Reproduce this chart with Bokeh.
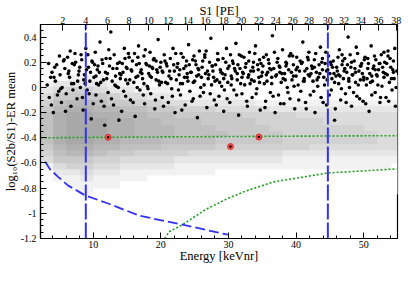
import numpy as np
from bokeh.plotting import figure
from bokeh.models import (Range1d, LinearAxis, FixedTicker, SingleIntervalTicker,
                          CustomJSTickFormatter, LinearColorMapper)
from bokeh.embed import file_html
from bokeh.resources import INLINE

# ---------------- data ----------------
# top axis: S1 [PE] tick labels and the energy [keVnr] where each sits
s1_labels = [2, 4, 6, 8, 10, 12, 14, 16, 18, 20, 22, 24, 26, 28, 30, 32, 34, 36, 38]
s1_tick_energy = [5.5, 8.9, 12.1, 15.3, 18.2, 21.1, 24.0, 26.6, 29.3, 31.9,
                  34.5, 37.0, 39.5, 41.9, 44.7, 47.1, 49.6, 52.2, 54.8]

# left axis ticks
y_ticks = [-1.2, -1.0, -0.8, -0.6, -0.4, -0.2, 0.0, 0.2, 0.4]

# analysis window (S1 = 4 and 30 PE)
cut_energy = [8.9, 44.7]

# gray ER-calibration cloud: density levels (0-9), 2 keVnr columns from 2 keVnr,
# 0.05 rows, listed from the top row (0.05..0.10) down to (-0.85..-0.80)
gray_rows = [
    "00111 00000 00000 00000 00000 00",
    "12222 11000 00000 00000 00000 00",
    "23443 22111 00000 00000 00000 00",
    "35555 43322 11111 00000 00000 00",
    "46776 55443 32222 21111 11111 11",
    "57887 76655 44433 33222 22222 22",
    "68998 87766 55555 44443 33333 33",
    "68999 88776 66555 54444 43333 33",
    "68999 88777 66655 55444 44443 33",
    "68999 88777 66665 55544 44444 33",
    "68998 87776 66655 55544 44444 33",
    "57887 76665 55544 44444 33333 33",
    "46776 55444 43333 33322 22222 22",
    "35554 43333 22222 22211 11111 11",
    "13443 32222 11111 11111 11111 10",
    "02232 21111 11100 00000 00000 00",
    "01121 11100 00000 00000 00000 00",
    "00111 10000 00000 00000 00000 00",
    "00010 00000 00000 00000 00000 00",
]
gray_x0, gray_dx = 2.0, 2.0
gray_y0, gray_dy = -0.85, 0.05

# black NR events
dot_energy = [
    3.2, 3.5, 3.9, 4.1, 4.4, 4.6, 4.9, 5.1, 5.3, 5.6,
    5.8, 6.0, 6.2, 6.5, 6.7, 6.9, 7.1, 7.3, 7.6, 7.9,
    8.1, 8.3, 8.5, 8.7, 8.9, 9.1, 9.3, 9.5, 9.7, 9.9,
    10.1, 10.3, 10.4, 10.6, 10.8, 11.0, 11.2, 11.4, 11.5, 11.7,
    11.9, 12.1, 12.2, 12.4, 12.6, 12.8, 13.0, 13.1, 13.3, 13.5,
    13.7, 13.9, 14.0, 14.2, 14.4, 14.6, 14.8, 14.9, 15.1, 15.3,
    15.5, 15.7, 15.8, 16.0, 16.2, 16.4, 16.6, 16.7, 16.9, 17.1,
    17.3, 17.5, 17.6, 17.8, 18.0, 18.2, 18.4, 18.5, 18.7, 18.9,
    19.1, 19.3, 19.4, 19.6, 19.8, 20.0, 20.2, 20.3, 20.5, 20.7,
    20.9, 21.1, 21.2, 21.4, 21.6, 21.8, 22.0, 22.1, 22.3, 22.5,
    22.7, 22.9, 23.0, 23.2, 23.4, 23.6, 23.8, 23.9, 24.1, 24.3,
    24.5, 24.7, 24.8, 25.0, 25.2, 25.4, 25.6, 25.7, 25.9, 26.1,
    26.3, 26.5, 26.6, 26.8, 27.0, 27.2, 27.4, 27.5, 27.7, 27.9,
    28.1, 28.3, 28.4, 28.6, 28.8, 29.0, 29.2, 29.3, 29.5, 29.7,
    29.9, 30.1, 30.2, 30.4, 30.6, 30.8, 31.0, 31.1, 31.3, 31.5,
    31.7, 31.9, 32.0, 32.2, 32.4, 32.6, 32.8, 32.9, 33.1, 33.3,
    33.5, 33.7, 33.8, 34.0, 34.2, 34.4, 34.6, 34.7, 34.9, 35.1,
    35.3, 35.5, 35.6, 35.8, 36.0, 36.2, 36.4, 36.5, 36.7, 36.9,
    37.1, 37.3, 37.4, 37.6, 37.8, 38.0, 38.2, 38.3, 38.5, 38.7,
    38.9, 39.1, 39.2, 39.4, 39.6, 39.8, 40.0, 40.1, 40.3, 40.5,
    40.7, 40.9, 41.0, 41.2, 41.4, 41.6, 41.8, 41.9, 42.1, 42.3,
    42.5, 42.7, 42.8, 43.0, 43.2, 43.4, 43.6, 43.7, 43.9, 44.1,
    44.3, 44.5, 44.6, 44.8, 45.0, 45.2, 45.4, 45.5, 45.7, 45.9,
    46.1, 46.3, 46.4, 46.6, 46.8, 47.0, 47.2, 47.3, 47.5, 47.7,
    47.9, 48.1, 48.2, 48.4, 48.6, 48.8, 49.0, 49.1, 49.3, 49.5,
    49.7, 49.9, 50.0, 50.2, 50.4, 50.6, 50.8, 50.9, 51.1, 51.3,
    51.5, 51.7, 51.8, 52.0, 52.2, 52.4, 52.6, 52.7, 52.9, 53.1,
    53.3, 53.5, 53.6, 53.8, 54.0, 54.2, 54.4, 54.5, 54.7, 54.9,
    3.4, 3.8, 4.2, 4.7, 5.0, 5.4, 5.9, 6.3, 6.6, 7.0,
    7.4, 7.7, 8.0, 8.4, 8.8, 9.2, 9.6, 10.0, 10.2, 10.5,
    10.9, 11.3, 11.6, 12.0, 12.3, 12.7, 13.2, 13.6, 13.8, 14.1,
    14.5, 14.7, 15.0, 15.4, 15.9, 16.1, 16.5, 16.8, 17.2, 17.4,
    17.7, 18.1, 18.3, 18.6, 19.0, 19.2, 19.5, 19.9, 20.1, 20.4,
    20.6, 21.0, 21.3, 21.7, 21.9, 22.2, 22.6, 22.8, 23.1, 23.5,
    23.7, 24.0, 24.4, 24.6, 24.9, 25.3, 25.5, 25.8, 26.2, 26.4,
    26.7, 26.9, 27.3, 27.6, 27.8, 28.2, 28.5, 28.7, 29.1, 29.4,
    29.6, 29.8, 30.3, 30.5, 30.9, 31.2, 31.4, 31.8, 32.1, 32.3,
    32.7, 33.0, 33.2, 33.6, 33.9, 34.1, 34.5, 34.8, 35.0, 35.4,
    35.7, 35.9, 36.3, 36.6, 36.8, 37.0, 37.5, 37.7, 37.9, 38.4,
    38.6, 38.8, 39.3, 39.5, 39.7, 40.2, 40.4, 40.6, 41.1, 41.3,
    41.5, 41.7, 42.0, 42.4, 42.6, 42.9, 43.1, 43.5, 43.8, 44.0,
    44.2, 44.4, 44.7, 44.9, 45.1, 45.3, 45.6, 45.8, 46.0, 46.2,
    46.5, 46.7, 46.9, 47.1, 47.4, 47.6, 47.8, 48.0, 48.3, 48.5,
    48.7, 48.9, 49.2, 49.4, 49.6, 49.8, 50.1, 50.3, 50.5, 50.7,
    51.0, 51.2, 51.4, 51.6, 51.9, 52.1, 52.3, 52.5, 52.8, 53.0,
    53.2, 53.4, 53.7, 53.9, 54.1, 54.3, 54.6, 54.8,
    3.7, 4.3, 5.2, 5.7, 6.4, 6.8, 7.2, 7.8, 8.2, 8.6,
    9.0, 9.4, 9.8, 10.4, 10.7, 11.1, 11.8, 12.5, 12.9, 13.4,
    13.9, 14.3, 14.8, 15.2, 15.6, 16.3, 16.6, 17.0, 17.5, 17.9,
    18.4, 18.8, 19.3, 19.7, 20.2, 20.8, 21.5, 22.4, 22.9, 23.3,
    23.9, 24.2, 24.8, 25.1, 25.6, 26.0, 26.5, 27.1, 27.6, 28.0,
    28.4, 28.9, 29.3, 29.9, 30.4, 30.7, 31.3, 31.6, 32.0, 32.5,
    33.0, 33.4, 33.7, 34.3, 34.6, 35.2, 35.6, 36.1, 36.4, 37.2,
    37.6, 38.1, 38.5, 39.0, 39.6, 40.0, 40.8, 41.2, 41.8, 42.2,
    42.7, 43.3, 43.9, 44.5, 45.2, 45.7, 46.3, 46.8, 47.2, 47.8,
    48.2, 48.8, 49.5, 50.0, 50.6, 51.2, 51.7, 52.4, 53.0, 53.6, 54.4,
]
dot_log = [
    0.02, -0.08, 0.12, -0.20, 0.05, 0.18, -0.03, 0.10, -0.12, 0.21,
    0.15, -0.05, 0.24, 0.08, -0.15, 0.19, 0.03, 0.27, -0.09, 0.13,
    0.00, 0.22, -0.18, 0.10, 0.31, -0.02, 0.16, 0.05, -0.25, 0.20,
    0.08, 0.28, -0.06, 0.14, 0.02, 0.36, -0.11, 0.19, 0.06, -0.30,
    0.23, 0.11, -0.04, 0.17, 0.44, 0.05, -0.14, 0.26, 0.09, 0.15,
    0.00, 0.20, 0.07, -0.19, 0.12, 0.31, -0.07, 0.16, 0.03, 0.24,
    -0.10, 0.13, 0.21, 0.04, -0.23, 0.18, 0.09, 0.33, -0.02, 0.14,
    0.07, 0.25, -0.13, 0.19, 0.01, 0.11, 0.28, -0.05, 0.16, 0.22,
    -0.17, 0.06, 0.14, 0.38, 0.02, 0.20, -0.08, 0.12, 0.26, 0.04,
    0.17, -0.12, 0.09, 0.23, -0.01, 0.31, 0.13, -0.20, 0.06, 0.19,
    0.10, -0.06, 0.27, 0.03, 0.15, -0.14, 0.21, 0.08, 0.34, -0.03,
    0.12, 0.22, -0.09, 0.05, 0.18, -0.24, 0.10, 0.29, 0.00, 0.16,
    -0.04, 0.24, 0.11, -0.16, 0.07, 0.20, 0.39, 0.02, 0.13, -0.10,
    0.18, 0.06, 0.27, -0.07, 0.14, 0.01, 0.23, -0.19, 0.10, 0.31,
    0.04, 0.17, -0.12, 0.09, 0.21, -0.02, 0.13, 0.35, 0.06, -0.22,
    0.15, 0.25, -0.05, 0.11, 0.02, 0.19, -0.15, 0.08, 0.28, 0.13,
    -0.08, 0.20, 0.05, 0.33, -0.01, 0.14, 0.22, -0.18, 0.09, 0.17,
    0.03, -0.11, 0.26, 0.12, 0.19, -0.04, 0.08, 0.41, 0.15, -0.20,
    0.10, 0.23, -0.06, 0.16, 0.04, 0.30, -0.13, 0.11, 0.20, 0.00,
    0.14, -0.09, 0.27, 0.06, 0.18, -0.17, 0.09, 0.24, 0.02, 0.13,
    -0.03, 0.20, 0.36, 0.07, -0.12, 0.15, 0.10, 0.28, -0.06, 0.17,
    0.05, 0.22, -0.20, 0.12, 0.01, 0.18, 0.32, -0.08, 0.14, 0.08,
    0.19, -0.14, 0.06, 0.25, 0.11, -0.02, 0.16, 0.21, -0.26, 0.09,
    0.13, 0.03, 0.30, -0.10, 0.18, 0.07, 0.23, -0.05, 0.12, 0.40,
    0.00, 0.16, -0.15, 0.10, 0.21, 0.04, -0.07, 0.27, 0.13, 0.06,
    0.19, -0.11, 0.08, 0.24, 0.02, 0.15, -0.19, 0.11, 0.33, 0.05,
    0.17, -0.04, 0.22, 0.09, 0.14, -0.12, 0.26, 0.01, 0.12, 0.20,
    -0.08, 0.10, 0.29, 0.04, 0.16, -0.02, 0.21, 0.07, -0.15, 0.13,
    0.19, -0.14, 0.08, -0.06, 0.25, 0.00, -0.19, 0.11, 0.29, -0.02,
    0.20, 0.05, 0.16, -0.08, 0.03, 0.26, 0.12, -0.13, 0.18, 0.03,
    0.12, 0.22, -0.15, 0.07, 0.30, -0.09, 0.02, 0.19, -0.26, 0.10,
    -0.03, 0.23, 0.15, 0.06, -0.12, 0.27, 0.00, 0.19, 0.11, -0.06,
    0.30, -0.01, 0.17, 0.08, 0.23, -0.10, 0.12, 0.16, 0.04, -0.15,
    0.21, 0.03, 0.13, -0.07, 0.18, 0.27, -0.02, 0.14, -0.18, 0.08,
    0.17, 0.05, 0.12, -0.11, 0.25, 0.09, 0.15, -0.07, 0.21, 0.02,
    0.29, 0.13, -0.05, 0.17, 0.08, -0.14, 0.22, 0.04, 0.11, -0.02,
    0.20, -0.09, 0.26, 0.07, 0.15, -0.06, 0.18, 0.03, 0.12, 0.24,
    -0.11, 0.10, 0.03, 0.16, 0.27, -0.05, 0.08, 0.19, 0.12, -0.16,
    0.05, 0.22, 0.14, -0.07, 0.28, 0.09, 0.17, -0.13, 0.11, 0.06,
    0.19, -0.04, 0.12, 0.25, 0.01, 0.16, -0.10, 0.21, 0.05, 0.13,
    -0.17, 0.24, 0.09, 0.15, -0.03, 0.27, 0.06, 0.11, 0.20, -0.12,
    0.02, 0.28, 0.14, -0.06, 0.20, 0.07, 0.11, -0.17, 0.16, 0.24,
    0.09, -0.01, 0.21, 0.13, -0.12, 0.18, 0.05, 0.26, 0.10, -0.04,
    0.15, 0.32, 0.02, -0.09, 0.17, 0.11, 0.22, -0.13, 0.07, 0.19,
    0.04, -0.06, 0.15, 0.25, 0.10, 0.02, 0.19, -0.08, 0.16, 0.28,
    0.11, 0.19, -0.11, 0.23, 0.07, 0.14, 0.31, 0.00,
    0.08, 0.16, -0.01, 0.22, 0.13, 0.03, 0.18, 0.10, 0.26, 0.06,
    0.14, -0.05, 0.21, 0.09, 0.17, 0.04, 0.12, 0.23, 0.15, 0.01,
    0.11, 0.19, 0.06, 0.27, 0.14, 0.08, 0.24, 0.12, 0.03, 0.18,
    0.09, 0.15, 0.21, 0.05, 0.13, 0.19, 0.07, 0.16, 0.03, 0.24,
    0.11, 0.18, 0.04, 0.21, 0.14, 0.08, 0.26, 0.10, 0.17, 0.05,
    0.22, 0.12, 0.07, 0.15, 0.02, 0.19, 0.11, 0.26, 0.08, 0.16,
    0.21, 0.06, 0.13, 0.18, 0.04, 0.24, 0.10, 0.15, 0.03, 0.20,
    0.12, 0.07, 0.17, 0.25, 0.09, 0.14, 0.19, 0.05, 0.22, 0.11,
    0.16, 0.08, 0.23, 0.13, 0.18, 0.04, 0.10, 0.26, 0.15, 0.07,
    0.20, 0.12, 0.17, 0.06, 0.23, 0.09, 0.14, 0.19, 0.08, 0.25, 0.12,
]

# red marked events
red_energy = [12.2, 30.3, 34.5]
red_log = [-0.396, -0.47, -0.394]

# blue dashed lower-bound curve
blue_energy = [2.9, 3.6, 4.8, 6.3, 8.9, 12.1, 16.9, 23.2, 29.9]
blue_log = [-0.59, -0.65, -0.71, -0.78, -0.86, -0.92, -1.02, -1.09, -1.17]

# green dotted NR median line
green_mid_energy = [2.2, 10.0, 20.0, 30.0, 40.0, 55.0]
green_mid_log = [-0.400, -0.397, -0.393, -0.390, -0.387, -0.383]

# green dotted lower curve
green_low_energy = [20.6, 21.2, 23.2, 26.6, 29.9, 32.4, 36.7, 44.8, 54.9]
green_low_log = [-1.20, -1.147, -1.09, -0.97, -0.882, -0.826, -0.75, -0.679, -0.647]

# ---------------- styling ----------------
FONT = "Liberation Serif"
BLUE = "#3232f5"
GREEN = "#1fa01f"
X0, X1 = 2.2, 55.0
Y0, Y1 = -1.2, 0.5

p = figure(width=407, height=265, x_range=Range1d(X0, X1), y_range=Range1d(Y0, Y1),
           output_backend="svg", toolbar_location=None,
           min_border_left=34, min_border_right=10,
           min_border_top=10, min_border_bottom=10)
p.xgrid.visible = False
p.ygrid.visible = False
p.outline_line_color = "black"
p.outline_line_width = 1.2
p.background_fill_color = "white"
p.border_fill_color = "white"


def style_axis(ax, title, label_standoff, title_standoff):
    ax.axis_line_color = "black"
    ax.axis_line_width = 1.2
    ax.major_tick_line_color = "black"
    ax.minor_tick_line_color = "black"
    ax.major_tick_in = 6
    ax.major_tick_out = 0
    ax.minor_tick_in = 3
    ax.minor_tick_out = 0
    ax.major_label_text_font = FONT
    ax.major_label_text_font_size = "10px"
    ax.major_label_text_color = "black"
    ax.major_label_text_line_height = 0.8
    ax.major_label_standoff = label_standoff
    ax.axis_label = title
    ax.axis_label_text_font = FONT
    ax.axis_label_text_font_size = "12.5px"
    ax.axis_label_text_font_style = "normal"
    ax.axis_label_text_color = "black"
    ax.axis_label_text_line_height = 0.8
    ax.axis_label_standoff = title_standoff


xb = p.xaxis[0]
xb.ticker = SingleIntervalTicker(interval=10, num_minor_ticks=5)
style_axis(xb, "Energy [keVnr]", 2, -2)

yl = p.yaxis[0]
y_minor = [round(v, 2) for v in np.arange(-1.2, 0.5001, 0.05)]
yl.ticker = FixedTicker(ticks=y_ticks, minor_ticks=y_minor)
yl.formatter = CustomJSTickFormatter(code="""
    const v = Math.round(tick * 10) / 10;
    return Math.abs(v) < 1e-9 ? "0" : String(v);
""")
style_axis(yl, "log\u2081\u2080(S2b/S1)-ER mean", 4, 0)

top = LinearAxis(ticker=FixedTicker(ticks=s1_tick_energy),
                 major_label_overrides={e: str(s) for e, s in zip(s1_tick_energy, s1_labels)})
style_axis(top, "S1 [PE]", 1, -4)
p.add_layout(top, "above")

# gray cloud as density image
grid = np.array([[int(c) for c in r.replace(" ", "")] for r in gray_rows[::-1]], dtype=float)
gray_palette = ["#ffffff", "#f2f2f2", "#e7e7e7", "#dcdcdc", "#d2d2d2",
                "#c9c9c9", "#c0c0c0", "#b8b8b8", "#b0b0b0", "#a8a8a8"]
mapper = LinearColorMapper(palette=gray_palette, low=0, high=9)
p.image(image=[grid], x=gray_x0, y=gray_y0,
        dw=gray_dx * grid.shape[1], dh=gray_dy * grid.shape[0], color_mapper=mapper)

# black events
p.scatter(dot_energy, dot_log, size=3.6, fill_color="black", line_color=None)

# lines
p.line(green_mid_energy, green_mid_log, line_color=GREEN, line_width=1.6, line_dash="2 2")
p.line(green_low_energy, green_low_log, line_color=GREEN, line_width=1.6, line_dash="2 2")
p.line(blue_energy, blue_log, line_color=BLUE, line_width=1.8, line_dash="10 4")
p.segment(x0=cut_energy, y0=[Y0] * len(cut_energy), x1=cut_energy, y1=[Y1] * len(cut_energy),
          line_color=BLUE, line_width=2, line_dash="16 3")

# red marked events
p.scatter(red_energy, red_log, size=6, fill_color="#ff5050", line_color="#e03030")
p.scatter(red_energy, red_log, size=2.6, fill_color="black", line_color=None)

open("out.html", "w").write(file_html(p, INLINE))
